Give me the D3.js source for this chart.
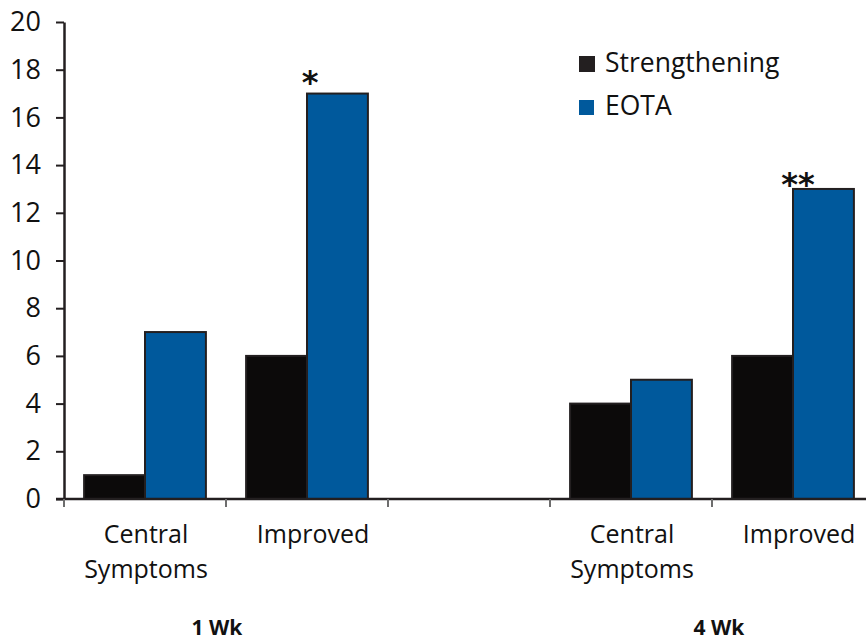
<!DOCTYPE html>
<html>
<head>
<meta charset="utf-8">
<script src="https://cdn.jsdelivr.net/npm/d3@7"></script>
<style>
  html, body { margin: 0; padding: 0; background: #fff; }
  svg { display: block; font-family: "Open Sans", "Noto Sans", sans-serif; }
</style>
</head>
<body>
<svg id="chart" width="866" height="640"></svg>
<script>
// Category slots along the x axis (third slot is an empty spacer between the time points)
const slots = ["c1", "i1", "gap", "c4", "i4"];
const slotLabels = [["Central", "Symptoms"], ["Improved"], [], ["Central", "Symptoms"], ["Improved"]];
const series = ["Strengthening", "EOTA"];
const strengthening = [1, 6, null, 4, 6];
const eota = [7, 17, null, 5, 13];
const timeGroups = ["1 Wk", "4 Wk"];
const timeGroupSlots = [["c1", "i1"], ["c4", "i4"]];
const yTicks = [0, 2, 4, 6, 8, 10, 12, 14, 16, 18, 20];
const significance = [{ slot: "i1", mark: "*", value: 17 }, { slot: "i4", mark: "**", value: 13 }];

const colors = { Strengthening: "#0c0a0a", EOTA: "#00599c" };
const stroke = "#231f20";

const svg = d3.select("#chart");

const x0 = d3.scaleBand().domain(slots).range([64, 874]).paddingInner(0).paddingOuter(0);
const x1 = d3.scaleBand().domain(series).range([0, x0.bandwidth()]).paddingInner(0).paddingOuter(0.33);
const y = d3.scaleLinear().domain([0, 20]).range([499, 22]);

// bars
const rows = slots.map((s, i) => ({ slot: s, Strengthening: strengthening[i], EOTA: eota[i] }));
const g = svg.append("g");
rows.forEach(r => {
  series.forEach(k => {
    if (r[k] == null) return;
    g.append("rect")
      .attr("x", x0(r.slot) + x1(k))
      .attr("y", y(r[k]))
      .attr("width", x1.bandwidth())
      .attr("height", y(0) - y(r[k]))
      .attr("fill", colors[k])
      .attr("stroke", stroke)
      .attr("stroke-width", 2);
  });
});

// y axis
const yAxis = svg.append("g")
  .attr("transform", "translate(64,0)")
  .call(d3.axisLeft(y).tickValues(yTicks).tickSize(8).tickSizeOuter(0).tickPadding(15));
yAxis.select(".domain").attr("stroke", stroke).attr("stroke-width", 2.5);
yAxis.selectAll(".tick line").attr("stroke", stroke).attr("stroke-width", 2);
yAxis.selectAll(".tick text")
  .attr("font-size", 27).attr("fill", "#111")
  .attr("font-family", "'Open Sans', sans-serif");

// x axis baseline with ticks at slot boundaries
const boundaries = slots.map(s => x0(s)).concat([x0.range()[1]]);
svg.append("line")
  .attr("x1", 56).attr("x2", 866)
  .attr("y1", y(0)).attr("y2", y(0))
  .attr("stroke", stroke).attr("stroke-width", 2.5);
svg.selectAll(".xtick").data(boundaries).enter().append("line")
  .attr("x1", d => d).attr("x2", d => d)
  .attr("y1", y(0)).attr("y2", y(0) + 8)
  .attr("stroke", "#6d6d6d").attr("stroke-width", 2);

// category labels
slots.forEach((s, i) => {
  const cx = x0(s) + x0.bandwidth() / 2 + (slotLabels[i].length === 1 ? 6 : 1);
  slotLabels[i].forEach((line, j) => {
    svg.append("text")
      .attr("x", cx).attr("y", 543 + j * 35)
      .attr("text-anchor", "middle")
      .attr("font-size", 25).attr("fill", "#111")
      .text(line);
  });
});

// time point labels
const timeNudge = [-9, 7];
timeGroups.forEach((t, i) => {
  const ss = timeGroupSlots[i];
  const cx = (x0(ss[0]) + x0(ss[1]) + x0.bandwidth()) / 2 + timeNudge[i];
  svg.append("text")
    .attr("x", cx).attr("y", 635)
    .attr("text-anchor", "middle")
    .attr("font-size", 21).attr("font-weight", "bold").attr("fill", "#111")
    .text(t);
});

// significance markers above the EOTA bars
significance.forEach(d => {
  const bx = x0(d.slot) + x1("EOTA");
  const single = d.mark.length === 1;
  svg.append("text")
    .attr("x", single ? bx + 3 : bx + 5)
    .attr("y", y(d.value) + (single ? -1 : 6))
    .attr("text-anchor", "middle")
    .attr("font-size", 32).attr("font-weight", "bold").attr("fill", "#111")
    .attr("font-family", "'DejaVu Sans', sans-serif")
    .text(d.mark);
});

// legend
const legend = svg.append("g").attr("transform", "translate(579,56)");
series.forEach((k, i) => {
  const row = legend.append("g").attr("transform", `translate(0,${i * 43})`);
  row.append("rect").attr("x", 0).attr("y", i ? 1 : 0).attr("width", i ? 15 : 16).attr("height", i ? 15 : 16)
    .attr("fill", k === "Strengthening" ? "#231f20" : colors[k]);
  row.append("text").attr("x", 26).attr("y", 16)
    .attr("font-size", 26.5).attr("fill", "#111")
    .text(k);
});
</script>
</body>
</html>
